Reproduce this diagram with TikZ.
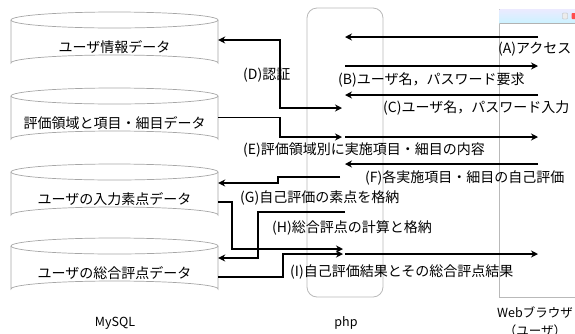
\documentclass[tikz,border=0pt]{standalone}
\usepackage{fontspec}
\setmainfont{Noto Sans CJK JP}
\usetikzlibrary{arrows.meta,calc}
\newcommand\dbcyl[3]{%
  \fill[white] (11,#2) -- (11,{#2+43}) arc[start angle=180,end angle=360,x radius=103.5,y radius=8] -- (218,#2) -- cycle;
  \draw[cylline] (11,#2) -- (11,{#2+43}) arc[start angle=180,end angle=360,x radius=103.5,y radius=8] -- (218,#2);
  \draw[cylline] (114.5,#2) ellipse[x radius=103.5,y radius=8];
  \node[inner sep=0pt,minimum width=207pt,minimum height=43pt] (#1) at (114.5,{#2+21.5}) {};
  \node[dbtext] (#1t) at (114.5,{#2+27}) {#3};
}
\begin{document}
\begin{tikzpicture}[x=1pt,y=-1pt,
  conn/.style={line width=1.5pt,-{Stealth[length=7pt,width=7pt]}},
  both/.style={line width=1.5pt,{Stealth[length=7pt,width=7pt]}-{Stealth[length=7pt,width=7pt]}},
  lbl/.style={anchor=west,inner sep=0pt,font=\fontsize{14}{16}\selectfont},
  dbtext/.style={inner sep=0pt,font=\fontsize{14}{16}\selectfont},
  cylline/.style={draw=gray!70,line width=0.7pt},
  foot/.style={inner sep=0pt,font=\fontsize{12.5}{18}\selectfont,align=center}]
\useasboundingbox (0,0) rectangle (575,333);
% databases
\dbcyl{c1}{20}{ユーザ情報データ}
\dbcyl{c2}{96}{評価領域と項目・細目データ}
\dbcyl{c3}{172}{ユーザの入力素点データ}
\dbcyl{c4}{246}{ユーザの総合評点データ}
% php box
\node[draw=gray!55,line width=0.8pt,rounded corners=10pt,minimum width=76pt,minimum height=289pt,inner sep=0pt] (php) at (345,152.5) {};
% browser window
\node[draw=gray!55,line width=0.8pt,anchor=north west,minimum width=120pt,minimum height=288pt,inner sep=0pt] (web) at (499,9) {};
\shade[top color=blue!8,bottom color=blue!25!cyan!20] (499.5,9.5) rectangle (600,23);
\draw[gray!60,line width=0.4pt] (499.5,23) -- (600,23);
\node[draw=gray!60,fill=gray!15,rounded corners=0.8pt,minimum width=5pt,minimum height=6pt,inner sep=0pt] (btn1) at (565,16) {};
\node[fill=red!70,rounded corners=0.8pt,minimum width=5pt,minimum height=6pt,inner sep=0pt] (btn2) at (574,16) {};
% browser-side / php-side points
\coordinate (wA) at (538,37); \coordinate (pA) at (345,37);
\coordinate (wB) at (538,66); \coordinate (pB) at (345,66);
\coordinate (wC) at (538,95); \coordinate (pC) at (345,95);
\coordinate (pD) at (342,108);
\coordinate (pE) at (342,137); \coordinate (pE2) at (345,137); \coordinate (wE) at (538,137);
\coordinate (wF) at (538,164); \coordinate (pF) at (345,164);
\coordinate (pG) at (340,177);
\coordinate (pH) at (345,212);
\coordinate (p3) at (343,249);
\coordinate (p4) at (343,254);
\coordinate (pI) at (345,254); \coordinate (wI) at (538,254);
% arrows
\draw[conn] (wA) -- (pA);
\draw[conn] (pB) -- (wB);
\draw[conn] (wC) -- (pC);
\draw[both] (c1.east |- 0,40) -- (280,40) -- (280,108) -- (pD);
\draw[conn] (c2.east) -- (280,117.5) -- (280,137) -- (pE);
\draw[conn] (pE2) -- (wE);
\draw[conn] (wF) -- (pF);
\draw[conn] (pG) -- (278,177) -- (278,183) -- (c3.east |- 0,183);
\draw[conn] (pH) -- (258,212) -- (258,258) -- (c4.east |- 0,258);
\draw[conn] (c3.east |- 0,202) -- (232,202) -- (232,249) -- (p3);
\draw[conn] (c4.east |- 0,277) -- (283,277) -- (283,254) -- (p4);
\draw[conn] (pI) -- (wI);
% labels
\node[lbl] (lA) at (498,49) {(A)アクセス};
\node[lbl] (lB) at (338,80) {(B)ユーザ名，パスワード要求};
\node[lbl] (lC) at (383,108) {(C)ユーザ名，パスワード入力};
\node[lbl] (lD) at (243,75) {(D)認証};
\node[lbl] (lE) at (243,150) {(E)評価領域別に実施項目・細目の内容};
\node[lbl] (lF) at (365,178) {(F)各実施項目・細目の自己評価};
\node[lbl] (lG) at (240,198) {(G)自己評価の素点を格納};
\node[lbl] (lH) at (272,228) {(H)総合評点の計算と格納};
\node[lbl] (lI) at (290,272) {(I)自己評価結果とその総合評点結果};
% footers
\node[foot] (fm) at (115,323) {MySQL};
\node[foot] (fp) at (346,323) {php};
\node[foot,anchor=north west] (fw) at (497,307) {Webブラウザ\\（ユーザ）};
\end{tikzpicture}
\end{document}
